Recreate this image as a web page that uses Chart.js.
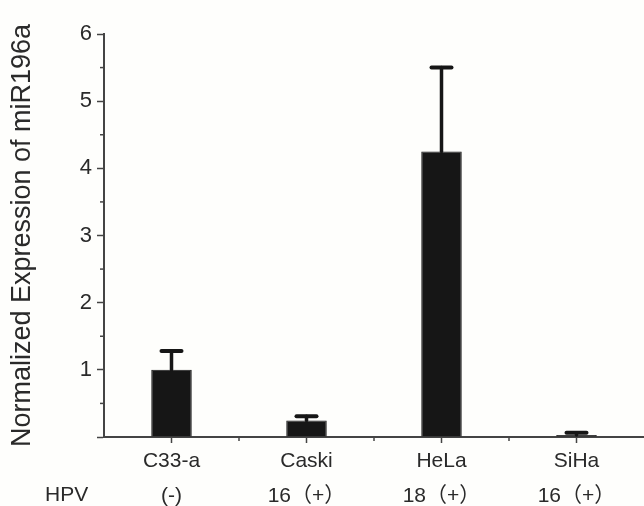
<!DOCTYPE html>
<html>
<head>
<meta charset="utf-8">
<script src="https://cdn.jsdelivr.net/npm/chart.js@4"></script>
<style>
  html, body { margin: 0; padding: 0; background: #fefefc; }
  #wrap { width: 644px; height: 506px; }
</style>
</head>
<body>
<div id="wrap"><canvas id="chart"></canvas></div>
<script>
// cell lines and their HPV status
const cellLines = ["C33-a", "Caski", "HeLa", "SiHa"];
const hpvStatus = ["(-)", "16（+）", "18（+）", "16（+）"];
// normalized expression (mean) and upper error bound
const expression = [1.0, 0.245, 4.25, 0.03];
const errorTop = [1.28, 0.31, 5.5, 0.065];
const yTicks = [1, 2, 3, 4, 5, 6];
const yMinorTicks = [0.5, 1.5, 2.5, 3.5, 4.5, 5.5];

const FONT = "'Liberation Sans', Arial, 'Noto Sans CJK SC', sans-serif";
const INK = "#161616";
const TEXT = "#2a2a2a";

// draws error bars, minor ticks and the HPV row label
const extras = {
    id: "extras",
    afterDatasetsDraw(chart) {
        const ctx = chart.ctx;
        const x = chart.scales.x;
        const y = chart.scales.y;
        const meta = chart.getDatasetMeta(0);
        ctx.save();
        ctx.strokeStyle = INK;
        ctx.lineCap = "round";
        meta.data.forEach((bar, i) => {
            const yTop = y.getPixelForValue(errorTop[i]);
            const yMid = y.getPixelForValue(expression[i]);
            ctx.lineWidth = 3.5;
            ctx.beginPath();
            ctx.moveTo(bar.x, yMid);
            ctx.lineTo(bar.x, yTop);
            ctx.stroke();
            ctx.lineWidth = 4;
            ctx.beginPath();
            ctx.moveTo(bar.x - 10, yTop);
            ctx.lineTo(bar.x + 10, yTop);
            ctx.stroke();
        });
        ctx.lineCap = "butt";
        ctx.lineWidth = 1.5;
        ctx.strokeStyle = "#444";
        // small ticks between categories
        const step = x.getPixelForValue(1) - x.getPixelForValue(0);
        for (let i = 0; i < cellLines.length - 1; i++) {
            const px = x.getPixelForValue(i) + step / 2;
            ctx.beginPath();
            ctx.moveTo(px, y.bottom);
            ctx.lineTo(px, y.bottom + 4);
            ctx.stroke();
        }
        // minor y ticks
        yMinorTicks.forEach(v => {
            const py = y.getPixelForValue(v);
            ctx.beginPath();
            ctx.moveTo(x.left, py);
            ctx.lineTo(x.left - 4, py);
            ctx.stroke();
        });
        // HPV row label
        ctx.fillStyle = TEXT;
        ctx.font = "21px " + FONT;
        ctx.textBaseline = "middle";
        ctx.textAlign = "left";
        ctx.fillText("HPV", 45, y.bottom + 58);
        ctx.restore();
    }
};

new Chart(document.getElementById("chart"), {
    type: "bar",
    data: {
        labels: cellLines.map((c, i) => [c, hpvStatus[i]]),
        datasets: [{
            data: expression,
            backgroundColor: INK,
            borderColor: INK,
            borderWidth: 1,
            categoryPercentage: 1,
            barPercentage: 0.3
        }]
    },
    options: {
        responsive: true,
        maintainAspectRatio: false,
        animation: false,
        layout: { padding: { top: 34, right: 0, left: 6, bottom: 0 } },
        plugins: { legend: { display: false }, tooltip: { enabled: false } },
        scales: {
            x: {
                afterFit: s => { s.height = 69; },
                grid: { drawOnChartArea: false, offset: false, tickLength: 6, tickColor: "#444", tickWidth: 1.5 },
                border: { color: "#444", width: 2 },
                ticks: {
                    color: TEXT,
                    font: { size: 21, family: FONT, lineHeight: 1.7 },
                    padding: 0
                }
            },
            y: {
                min: 0,
                max: 6,
                afterFit: s => { s.width = 98; },
                grid: {
                    drawOnChartArea: false,
                    tickLength: 7,
                    tickColor: "#444",
                    tickWidth: 1.5
                },
                border: { color: "#444", width: 2 },
                ticks: {
                    stepSize: 1,
                    color: TEXT,
                    font: { size: 22, family: FONT },
                    padding: 5,
                    callback: v => yTicks.includes(v) ? String(v) : ""
                },
                title: {
                    display: true,
                    text: "Normalized Expression of miR196a",
                    color: TEXT,
                    font: { size: 27, family: FONT },
                    padding: 0
                }
            }
        }
    },
    plugins: [extras]
});
</script>
</body>
</html>
